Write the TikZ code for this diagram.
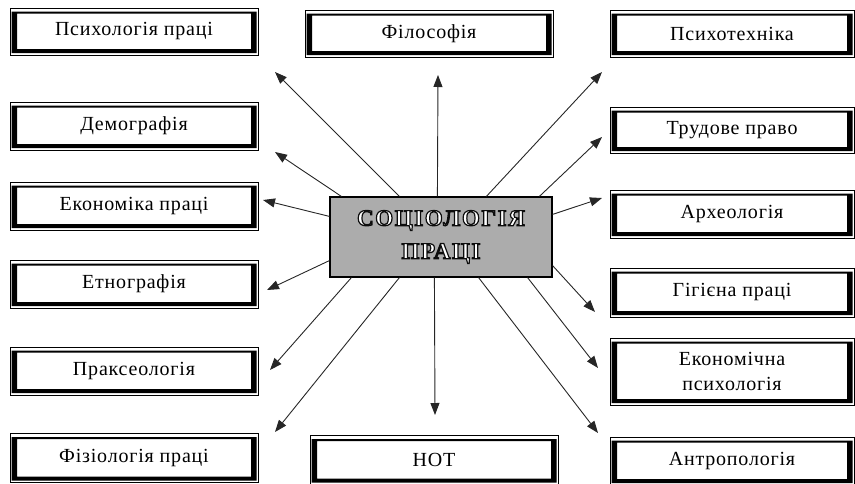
\documentclass[tikz,border=0pt]{standalone}
\usepackage{fontspec}
\setmainfont{Liberation Serif}
\usetikzlibrary{arrows.meta,calc}
\newcommand\outl[1]{\special{pdf:code q 2 Tr 1.2 w 0.05 0.05 0.05 RG}#1\special{pdf:code Q}}
\tikzset{
  box/.style={draw=black, line width=0.7pt, fill=white, inner sep=0pt, align=center,
    font=\fontsize{20}{25}\selectfont\addfontfeatures{LetterSpace=4},
    path picture={
      \fill[black, even odd rule]
        ([shift={(1.5pt,2pt)}]path picture bounding box.south west) rectangle ([shift={(-1.5pt,-3.5pt)}]path picture bounding box.north east)
        ([shift={(7pt,6pt)}]path picture bounding box.south west) rectangle ([shift={(-7pt,-5.5pt)}]path picture bounding box.north east);
    }},
  lbox/.style={box, minimum width=248pt},
  rbox/.style={box, minimum width=244pt},
  mbox/.style={box, minimum width=248pt},
  core/.style={draw=black, line width=1.2pt, fill=gray!65, inner sep=0pt,
    minimum width=222pt, minimum height=80pt, align=center,
    font=\fontsize{23}{33}\selectfont\bfseries\addfontfeatures{LetterSpace=7}},
  arr/.style={draw=black!85, line width=0.9pt, -{Triangle[length=12pt,width=9pt]}}
}
\begin{document}
\begin{tikzpicture}[x=1pt,y=-1pt]
\useasboundingbox (0,0) rectangle (855,483);
% left column
\node[lbox, minimum height=47pt] (psy) at (134,31.5) {Психологія праці};
\node[lbox, minimum height=48pt] (dem) at (134,126) {Демографія};
\node[lbox, minimum height=48pt] (eco) at (134,206) {Економіка праці};
\node[lbox, minimum height=48pt] (eth) at (134,284) {Етнографія};
\node[lbox, minimum height=48pt] (prax) at (134,371) {Праксеологія};
\node[lbox, minimum height=49pt] (fiz) at (134,458) {Фізіологія праці};
% middle column
\node[mbox, minimum height=47pt] (phil) at (429,33.5) {Філософія};
\node[mbox, minimum height=49pt] (hot) at (434,460) {НОТ};
% right column
\node[rbox, minimum height=47pt] (psyt) at (732,33.5) {Психотехніка};
\node[rbox, minimum height=46pt] (trud) at (732,130) {Трудове право};
\node[rbox, minimum height=48pt] (arch) at (732,214) {Археологія};
\node[rbox, minimum height=49pt] (hyg) at (732,292.5) {Гігієна праці};
\node[rbox, minimum height=67pt] (epsy) at (732,371.5) {Економічна\\психологія};
\node[rbox, minimum height=48pt] (anth) at (732,461) {Антропологія};
% centre
\node[core] (c) at (441,237) {\color{white}\outl{СОЦІОЛОГІЯ}\\\color{white}\outl{ПРАЦІ}};
% arrow tips
\coordinate (tpsy) at (275,72);
\coordinate (tdem) at (275,152);
\coordinate (teco) at (263,200);
\coordinate (tphil) at (438,75);
\coordinate (tpsyt) at (602,72);
\coordinate (ttrud) at (602,137);
\coordinate (tarch) at (602,198);
\coordinate (teth) at (267,290);
\coordinate (tprax) at (270,370);
\coordinate (tfiz) at (275,432);
\coordinate (thot) at (435,415);
\coordinate (thyg) at (595,312);
\coordinate (tepsy) at (598,368);
\coordinate (tanth) at (598,433);
% arrows
\draw[arr] ($(c.north west)+(70,0)$) -- (tpsy);
\draw[arr] ($(c.north west)+(12,0)$) -- (tdem);
\draw[arr] ($(c.north west)+(0,20)$) -- (teco);
\draw[arr] ($(c.north west)+(108,0)$) -- (tphil);
\draw[arr] ($(c.north west)+(157,0)$) -- (tpsyt);
\draw[arr] ($(c.north west)+(210,0)$) -- (ttrud);
\draw[arr] ($(c.north east)+(0,18)$) -- (tarch);
\draw[arr] ($(c.south west)+(0,-17)$) -- (teth);
\draw[arr] ($(c.south west)+(22,0)$) -- (tprax);
\draw[arr] ($(c.south west)+(70,0)$) -- (tfiz);
\draw[arr] ($(c.south west)+(105,0)$) -- (thot);
\draw[arr] ($(c.south east)+(0,-12)$) -- (thyg);
\draw[arr] ($(c.south east)+(-25,0)$) -- (tepsy);
\draw[arr] ($(c.south east)+(-74,0)$) -- (tanth);
\end{tikzpicture}
\end{document}
